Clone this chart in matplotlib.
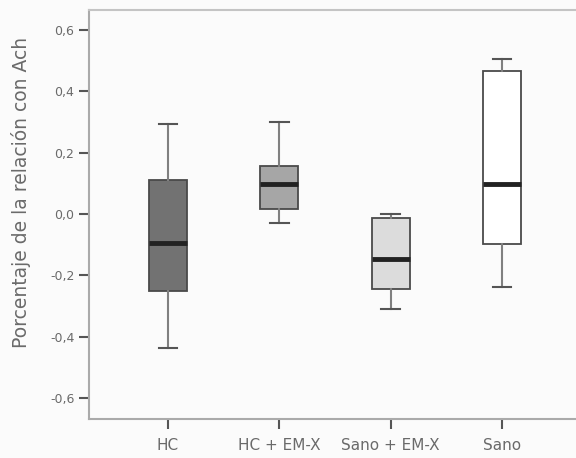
import matplotlib
matplotlib.use("Agg")
import matplotlib.pyplot as plt

categories = ["HC", "HC + EM-X", "Sano + EM-X", "Sano"]
whisker_low = [-0.436, -0.029, -0.309, -0.237]
q1 = [-0.25, 0.016, -0.244, -0.098]
medians = [-0.094, 0.098, -0.146, 0.098]
q3 = [0.111, 0.156, -0.013, 0.465]
whisker_high = [0.293, 0.30, 0.0, 0.507]
box_colors = ["#727272", "#a6a6a6", "#dcdcdc", "#ffffff"]
yticks = [-0.6, -0.4, -0.2, 0.0, 0.2, 0.4, 0.6]
ytick_labels = ["-0,6", "-0,4", "-0,2", "0,0", "0,2", "0,4", "0,6"]
ylabel = "Porcentaje de la relación con Ach"

text_color = "#6a6a6a"
fig = plt.figure(figsize=(5.76, 4.58), dpi=100, facecolor="#fbfbfb")
ax = fig.add_axes([0.1545, 0.0852, 0.8455, 0.8928])
ax.set_facecolor("#fbfbfb")

stats = []
for i, c in enumerate(categories):
    stats.append(dict(label=c, whislo=whisker_low[i], q1=q1[i], med=medians[i],
                      q3=q3[i], whishi=whisker_high[i], fliers=[]))

bp = ax.bxp(stats, positions=range(1, len(categories) + 1), widths=0.34,
            patch_artist=True, showfliers=False,
            boxprops=dict(edgecolor="#4a4a4a", linewidth=1.3),
            medianprops=dict(color="#222222", linewidth=3.5),
            whiskerprops=dict(color="#808080", linewidth=1.5),
            capprops=dict(color="#555555", linewidth=1.5),
            capwidths=0.17)
for patch, col in zip(bp["boxes"], box_colors):
    patch.set_facecolor(col)

ax.set_xlim(0.29, 4.665)
ax.set_ylim(-0.668, 0.665)
ax.set_yticks(yticks)
ax.set_yticklabels(ytick_labels)
ax.set_ylabel(ylabel, color=text_color, fontsize=13.5)
ax.yaxis.set_label_coords(-0.12, 0.555)

for s in ["left", "bottom", "top"]:
    ax.spines[s].set_color("#aaaaaa")
    ax.spines[s].set_linewidth(1.5)
ax.spines["top"].set_color("#c4c4c4")
ax.spines["right"].set_visible(False)
ax.tick_params(axis="both", colors="#555555", labelcolor=text_color,
               labelsize=9, length=7, width=1.5)
ax.tick_params(axis="x", labelsize=11, pad=7)

fig.savefig("out.png", dpi=100, facecolor=fig.get_facecolor())
